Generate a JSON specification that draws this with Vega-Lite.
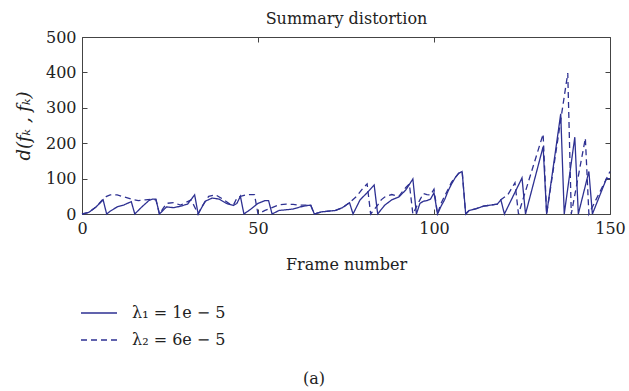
{
  "$schema": "https://vega.github.io/schema/vega-lite/v6.json",
  "width": 528,
  "height": 177,
  "autosize": {"type": "none"},
  "padding": {"left": 82, "top": 37, "right": 19, "bottom": 177},
  "background": "white",
  "config": {
    "font": "DejaVu Serif",
    "view": {"stroke": "#444444", "strokeWidth": 1},
    "axis": {
      "grid": false,
      "domainColor": "#444444",
      "tickColor": "#444444",
      "labelColor": "#222222",
      "titleColor": "#222222",
      "labelFont": "DejaVu Serif",
      "titleFont": "DejaVu Serif",
      "labelFontSize": 16,
      "titleFontSize": 16,
      "titleFontWeight": "normal",
      "labelFlush": false
    }
  },
  "title": {
    "text": "(a)",
    "orient": "bottom",
    "anchor": "middle",
    "font": "DejaVu Serif",
    "fontSize": 16,
    "fontWeight": "normal",
    "color": "#222222",
    "offset": 23,
    "dx": -32
  },
  "data": {
    "values": [
      {"f": 0, "v": 0, "s": "A"}, {"f": 2, "v": 5, "s": "A"}, {"f": 4, "v": 20, "s": "A"}, {"f": 6, "v": 40, "s": "A"}, {"f": 7, "v": 0, "s": "A"},
      {"f": 8, "v": 8, "s": "A"}, {"f": 10, "v": 20, "s": "A"}, {"f": 12, "v": 26, "s": "A"}, {"f": 14, "v": 35, "s": "A"}, {"f": 15, "v": 0, "s": "A"},
      {"f": 17, "v": 20, "s": "A"}, {"f": 19, "v": 38, "s": "A"}, {"f": 20, "v": 42, "s": "A"}, {"f": 21, "v": 42, "s": "A"}, {"f": 22, "v": 0, "s": "A"},
      {"f": 24, "v": 20, "s": "A"}, {"f": 26, "v": 18, "s": "A"}, {"f": 28, "v": 22, "s": "A"}, {"f": 30, "v": 28, "s": "A"}, {"f": 32, "v": 54, "s": "A"},
      {"f": 33, "v": 0, "s": "A"}, {"f": 35, "v": 36, "s": "A"}, {"f": 37, "v": 45, "s": "A"}, {"f": 39, "v": 42, "s": "A"}, {"f": 41, "v": 30, "s": "A"},
      {"f": 43, "v": 24, "s": "A"}, {"f": 44, "v": 30, "s": "A"}, {"f": 45, "v": 50, "s": "A"}, {"f": 46, "v": 0, "s": "A"}, {"f": 48, "v": 14, "s": "A"},
      {"f": 50, "v": 30, "s": "A"}, {"f": 52, "v": 38, "s": "A"}, {"f": 53, "v": 38, "s": "A"}, {"f": 54, "v": 0, "s": "A"}, {"f": 56, "v": 10, "s": "A"},
      {"f": 58, "v": 12, "s": "A"}, {"f": 60, "v": 14, "s": "A"}, {"f": 62, "v": 20, "s": "A"}, {"f": 64, "v": 24, "s": "A"}, {"f": 65, "v": 25, "s": "A"},
      {"f": 66, "v": 0, "s": "A"}, {"f": 68, "v": 6, "s": "A"}, {"f": 70, "v": 8, "s": "A"}, {"f": 72, "v": 10, "s": "A"}, {"f": 74, "v": 18, "s": "A"},
      {"f": 76, "v": 32, "s": "A"}, {"f": 77, "v": 0, "s": "A"}, {"f": 79, "v": 40, "s": "A"}, {"f": 81, "v": 60, "s": "A"}, {"f": 83, "v": 82, "s": "A"},
      {"f": 84, "v": 0, "s": "A"}, {"f": 86, "v": 25, "s": "A"}, {"f": 88, "v": 40, "s": "A"}, {"f": 90, "v": 48, "s": "A"}, {"f": 92, "v": 68, "s": "A"},
      {"f": 94, "v": 99, "s": "A"}, {"f": 95, "v": 0, "s": "A"}, {"f": 96, "v": 30, "s": "A"}, {"f": 97, "v": 36, "s": "A"}, {"f": 98, "v": 38, "s": "A"},
      {"f": 99, "v": 42, "s": "A"}, {"f": 100, "v": 60, "s": "A"}, {"f": 101, "v": 0, "s": "A"}, {"f": 102, "v": 22, "s": "A"}, {"f": 103, "v": 40, "s": "A"},
      {"f": 104, "v": 65, "s": "A"}, {"f": 105, "v": 85, "s": "A"}, {"f": 106, "v": 102, "s": "A"}, {"f": 107, "v": 115, "s": "A"}, {"f": 108, "v": 120, "s": "A"},
      {"f": 109, "v": 0, "s": "A"}, {"f": 110, "v": 10, "s": "A"}, {"f": 112, "v": 15, "s": "A"}, {"f": 114, "v": 22, "s": "A"}, {"f": 116, "v": 25, "s": "A"},
      {"f": 118, "v": 28, "s": "A"}, {"f": 119, "v": 40, "s": "A"}, {"f": 120, "v": 0, "s": "A"}, {"f": 125, "v": 102, "s": "A"}, {"f": 126, "v": 0, "s": "A"},
      {"f": 131, "v": 190, "s": "A"}, {"f": 132, "v": 0, "s": "A"}, {"f": 136, "v": 283, "s": "A"}, {"f": 137, "v": 0, "s": "A"}, {"f": 140, "v": 217, "s": "A"},
      {"f": 141, "v": 0, "s": "A"}, {"f": 144, "v": 120, "s": "A"}, {"f": 145, "v": 0, "s": "A"}, {"f": 149, "v": 100, "s": "A"}, {"f": 150, "v": 100, "s": "A"},

      {"f": 0, "v": 0, "s": "B"}, {"f": 2, "v": 5, "s": "B"}, {"f": 4, "v": 20, "s": "B"}, {"f": 6, "v": 42, "s": "B"}, {"f": 7, "v": 50, "s": "B"},
      {"f": 8, "v": 54, "s": "B"}, {"f": 10, "v": 54, "s": "B"}, {"f": 12, "v": 48, "s": "B"}, {"f": 14, "v": 42, "s": "B"}, {"f": 16, "v": 38, "s": "B"},
      {"f": 18, "v": 40, "s": "B"}, {"f": 20, "v": 42, "s": "B"}, {"f": 21, "v": 40, "s": "B"}, {"f": 22, "v": 0, "s": "B"}, {"f": 23, "v": 15, "s": "B"},
      {"f": 24, "v": 30, "s": "B"}, {"f": 26, "v": 32, "s": "B"}, {"f": 28, "v": 25, "s": "B"}, {"f": 30, "v": 35, "s": "B"}, {"f": 31, "v": 40, "s": "B"},
      {"f": 33, "v": 0, "s": "B"}, {"f": 34, "v": 20, "s": "B"}, {"f": 36, "v": 50, "s": "B"}, {"f": 38, "v": 54, "s": "B"}, {"f": 40, "v": 42, "s": "B"},
      {"f": 42, "v": 28, "s": "B"}, {"f": 43, "v": 25, "s": "B"}, {"f": 44, "v": 45, "s": "B"}, {"f": 45, "v": 50, "s": "B"}, {"f": 47, "v": 55, "s": "B"},
      {"f": 49, "v": 55, "s": "B"}, {"f": 50, "v": 0, "s": "B"}, {"f": 52, "v": 10, "s": "B"}, {"f": 54, "v": 18, "s": "B"}, {"f": 56, "v": 26, "s": "B"},
      {"f": 58, "v": 28, "s": "B"}, {"f": 60, "v": 27, "s": "B"}, {"f": 62, "v": 25, "s": "B"}, {"f": 64, "v": 25, "s": "B"}, {"f": 65, "v": 24, "s": "B"},
      {"f": 66, "v": 0, "s": "B"}, {"f": 68, "v": 6, "s": "B"}, {"f": 70, "v": 8, "s": "B"}, {"f": 72, "v": 10, "s": "B"}, {"f": 74, "v": 18, "s": "B"},
      {"f": 76, "v": 32, "s": "B"}, {"f": 78, "v": 50, "s": "B"}, {"f": 80, "v": 75, "s": "B"}, {"f": 81, "v": 85, "s": "B"}, {"f": 82, "v": 0, "s": "B"},
      {"f": 84, "v": 25, "s": "B"}, {"f": 85, "v": 40, "s": "B"}, {"f": 86, "v": 48, "s": "B"}, {"f": 88, "v": 55, "s": "B"}, {"f": 90, "v": 50, "s": "B"},
      {"f": 92, "v": 75, "s": "B"}, {"f": 93, "v": 85, "s": "B"}, {"f": 94, "v": 0, "s": "B"}, {"f": 96, "v": 40, "s": "B"}, {"f": 97, "v": 58, "s": "B"},
      {"f": 98, "v": 55, "s": "B"}, {"f": 99, "v": 54, "s": "B"}, {"f": 100, "v": 70, "s": "B"}, {"f": 101, "v": 0, "s": "B"}, {"f": 102, "v": 30, "s": "B"},
      {"f": 103, "v": 50, "s": "B"}, {"f": 105, "v": 90, "s": "B"}, {"f": 107, "v": 115, "s": "B"}, {"f": 108, "v": 120, "s": "B"}, {"f": 109, "v": 0, "s": "B"},
      {"f": 110, "v": 10, "s": "B"}, {"f": 112, "v": 15, "s": "B"}, {"f": 114, "v": 22, "s": "B"}, {"f": 116, "v": 25, "s": "B"}, {"f": 118, "v": 28, "s": "B"},
      {"f": 119, "v": 40, "s": "B"}, {"f": 121, "v": 55, "s": "B"}, {"f": 123, "v": 88, "s": "B"}, {"f": 124, "v": 0, "s": "B"}, {"f": 131, "v": 226, "s": "B"},
      {"f": 132, "v": 0, "s": "B"}, {"f": 138, "v": 398, "s": "B"}, {"f": 139, "v": 0, "s": "B"}, {"f": 143, "v": 214, "s": "B"}, {"f": 144, "v": 0, "s": "B"},
      {"f": 150, "v": 120, "s": "B"}
    ]
  },
  "resolve": {"axis": {"x": "independent", "y": "independent"}},
  "layer": [
    {
      "mark": {"type": "line", "color": "#2E3192", "strokeWidth": 1.3},
      "encoding": {
        "x": {
          "field": "f", "type": "quantitative",
          "scale": {"domain": [0, 150], "nice": false},
          "axis": {"values": [0, 50, 100, 150], "tickSize": -5, "labelPadding": 11, "title": "Frame number", "titlePadding": 20, "domain": false}
        },
        "y": {
          "field": "v", "type": "quantitative",
          "scale": {"domain": [0, 500], "nice": false},
          "axis": {"values": [0, 100, 200, 300, 400, 500], "tickSize": -5, "labelPadding": 11, "title": "d(fₖ , fₖ)", "titleFontStyle": "italic", "titleFontSize": 18, "titlePadding": 12, "domain": false}
        },
        "detail": {"field": "s"},
        "strokeDash": {
          "field": "s", "type": "nominal",
          "scale": {"domain": ["A", "B"], "range": [[1, 0], [6, 4]]},
          "legend": {
            "orient": "none",
            "legendX": -2,
            "legendY": 257,
            "title": null,
            "labelExpr": "datum.value == 'A' ? 'λ₁ = 1e − 5' : 'λ₂ = 6e − 5'",
            "labelFont": "DejaVu Serif",
            "labelFontSize": 16,
            "labelColor": "#222222",
            "symbolSize": 1296,
            "symbolStrokeWidth": 1.3,
            "symbolStrokeColor": "#2E3192",
            "rowPadding": 0,
            "labelOffset": 14
          }
        }
      }
    },
    {
      "mark": {"type": "line", "strokeOpacity": 0},
      "encoding": {
        "x": {
          "field": "f", "type": "quantitative",
          "axis": {"orient": "top", "values": [0, 50, 100, 150], "tickSize": -5, "labels": false, "domain": false, "title": "Summary distortion", "titleFontSize": 16, "titlePadding": 10}
        },
        "y": {
          "field": "v", "type": "quantitative",
          "axis": {"orient": "right", "values": [0, 100, 200, 300, 400, 500], "tickSize": -5, "labels": false, "domain": false, "title": null}
        },
        "detail": {"field": "s"}
      }
    }
  ]
}
